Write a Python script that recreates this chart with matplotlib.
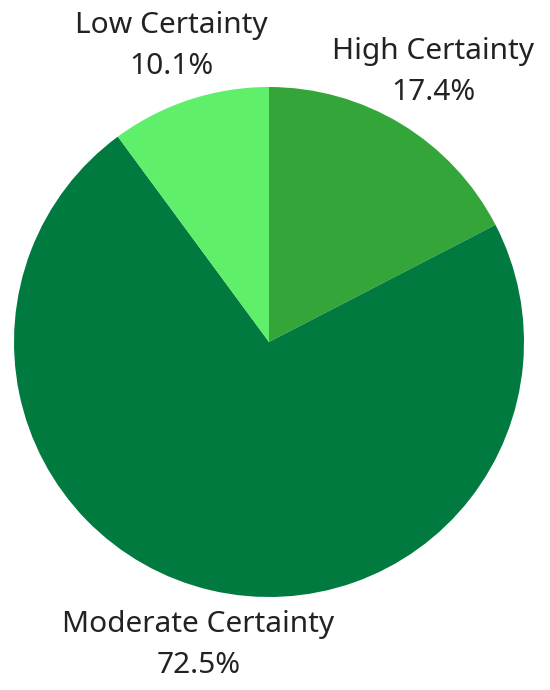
import numpy as np
import matplotlib.pyplot as plt

plt.rcParams['font.family'] = ['Noto Sans', 'DejaVu Sans']

# data
categories = ['High Certainty', 'Moderate Certainty', 'Low Certainty']
shares = [17.4, 72.5, 10.1]
colors = ['#34a639', '#007a3e', '#5fef6b']

fig = plt.figure(figsize=(5.5, 6.9), dpi=100)
ax = fig.add_axes([14 / 550, 93 / 690, 510 / 550, 510 / 690])

wedges, _ = ax.pie(shares, colors=colors, startangle=90, counterclock=False,
                   radius=1.0, wedgeprops=dict(linewidth=0))

ax.set_xlim(-1, 1)
ax.set_ylim(-1, 1)
ax.set_aspect('equal')
ax.axis('off')

# labels outside each wedge, box pushed out so its edge sits just off the rim
texts = []
dirs = []
for w, name, val in zip(wedges, categories, shares):
    mid = np.deg2rad((w.theta1 + w.theta2) / 2)
    u = np.array([np.cos(mid), np.sin(mid)])
    t = ax.text(0, 0, f'{name}\n{val}%', ha='center', va='center',
                fontsize=21.5, color='#222222', linespacing=1.55, clip_on=False)
    texts.append(t)
    dirs.append(u)

fig.canvas.draw()
renderer = fig.canvas.get_renderer()
px_per_unit = ax.transData.transform((1, 0))[0] - ax.transData.transform((0, 0))[0]
gap = 20
for t, u in zip(texts, dirs):
    bb = t.get_window_extent(renderer)
    hw, hh = bb.width / 2, bb.height / 2
    d = min(hw / abs(u[0]) if abs(u[0]) > 1e-9 else np.inf,
            hh / abs(u[1]) if abs(u[1]) > 1e-9 else np.inf)
    r = (px_per_unit + gap + d) / px_per_unit
    t.set_position((r * u[0], r * u[1]))

fig.savefig('out.png', dpi=100)
